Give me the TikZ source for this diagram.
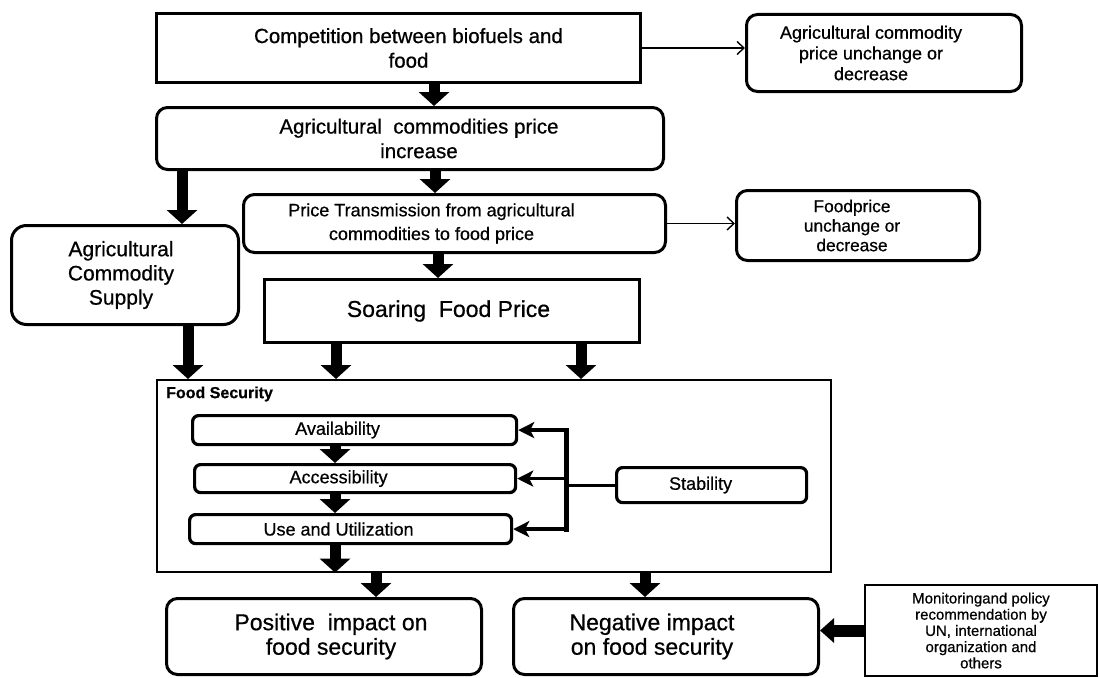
\documentclass[tikz,border=0pt]{standalone}
\usepackage{fontspec}
\setmainfont{Liberation Sans}[FakeBold=0.6]
\usetikzlibrary{arrows.meta,calc}
\newcommand{\sh}[1]{\hspace*{#1}}
\begin{document}
\begin{tikzpicture}[x=1pt,y=-1pt,
  box/.style={draw, line width=3pt, inner sep=0pt, align=center, anchor=north west},
  rbox/.style={box, rounded corners=11pt},
  ibox/.style={box, line width=3.2pt, rounded corners=6pt, font=\fontsize{18}{20}\selectfont},
  fat/.style={line width=11pt, -{Triangle[width=30pt,length=14pt]}},
  fatside/.style={line width=12pt, -{Triangle[width=24pt,length=14pt]}},
  slimarrow/.style={line width=1.4pt, -{Straight Barb[length=7pt,width=13pt,line width=1.4pt]}},
  medarrow/.style={line width=3.5pt, -{Stealth[length=16pt,width=16pt,inset=4pt]}},
  medline/.style={line width=3pt},
  bus/.style={line width=5pt, line cap=rect}
]
\fill[white] (0,0) rectangle (1099,677);
\useasboundingbox (0,0) rectangle (1099,677);

% top row
\node[box, minimum width=484pt, minimum height=69pt, font=\fontsize{20.5}{24.6}\selectfont] (A) at (155,12) {\sh{20pt}Competition between biofuels and\\\sh{20pt}food};
\node[rbox, minimum width=275pt, minimum height=77pt, font=\fontsize{18}{20.7}\selectfont] (B) at (745,13) {\sh{-26pt}Agricultural commodity\\\sh{-26pt}price unchange or\\\sh{-26pt}decrease};
\node[rbox, minimum width=507pt, minimum height=62pt, font=\fontsize{20.5}{24.6}\selectfont] (C) at (155,106) {\sh{18pt}Agricultural\ \ commodities price\\\sh{18pt}increase};
\node[rbox, minimum width=422pt, minimum height=58pt, font=\fontsize{18}{23.7}\selectfont] (D) at (242,193) {\sh{-46pt}Price Transmission from agricultural\\\sh{-46pt}commodities to food price};
\node[rbox, minimum width=243pt, minimum height=70pt, font=\fontsize{17.3}{19.5}\selectfont] (F) at (735,189) {\sh{-12pt}Foodprice\\\sh{-12pt}unchange or\\\sh{-12pt}decrease};
\node[box, rounded corners=15pt, minimum width=227pt, minimum height=99pt, font=\fontsize{21}{24.2}\selectfont] (G) at (10,224) {\sh{-8pt}Agricultural\\\sh{-8pt}Commodity\\\sh{-8pt}Supply};
\node[box, minimum width=375pt, minimum height=63pt, font=\fontsize{23}{27}\selectfont] (E) at (263,278) {\sh{-7pt}Soaring\ \ Food Price};

% food security
\node[box, line width=1.6pt, minimum width=674pt, minimum height=192pt] (FS) at (156,379) {};
\node[anchor=west, inner sep=0pt, font=\bfseries\fontsize{16}{18}\selectfont] (FSl) at (166,394) {Food Security};
\node[ibox, minimum width=324pt, minimum height=29pt] (Av) at (191,414) {\sh{-34pt}Availability};
\node[ibox, minimum width=321pt, minimum height=28pt] (Ac) at (193,463) {\sh{-33pt}Accessibility};
\node[ibox, minimum width=322pt, minimum height=29pt] (Us) at (188,513) {\sh{-24pt}Use and Utilization};
\node[ibox, minimum width=190pt, minimum height=35pt] (St) at (615,466) {\sh{-22pt}Stability};

% bottom
\node[rbox, minimum width=315pt, minimum height=76pt, font=\fontsize{23}{24.5}\selectfont] (Po) at (165,597) {\sh{14pt}Positive\ \ impact on\\\sh{14pt}food security};
\node[rbox, minimum width=305pt, minimum height=76pt, font=\fontsize{23}{24.5}\selectfont] (Ne) at (512,597) {\sh{-28pt}Negative impact\\\sh{-28pt}on food security};
\node[box, line width=2pt, minimum width=232pt, minimum height=91pt, font=\fontsize{15}{16.2}\selectfont] (Mo) at (864,584) {Monitoringand policy\\recommendation by\\UN, international\\organization and\\others};

% column coordinates
\coordinate (xAC) at (434,0);
\coordinate (xCG) at (182,0);
\coordinate (xGF) at (188,0);
\coordinate (xCD) at (435,0);
\coordinate (xDE) at (438,0);
\coordinate (xE1) at (336,0);
\coordinate (xE2) at (581,0);
\coordinate (xIn) at (335,0);
\coordinate (xPo) at (376,0);
\coordinate (xNe) at (645,0);
\coordinate (J) at (566,0);

% fat arrows
\draw[fat] (A.south -| xAC) -- (C.north -| xAC);
\draw[fat] (C.south -| xCG) -- (G.north -| xCG);
\draw[fat] (C.south -| xCD) -- (D.north -| xCD);
\draw[fat] (D.south -| xDE) -- (E.north -| xDE);
\draw[fat] (G.south -| xGF) -- (FS.north -| xGF);
\draw[fat] (E.south -| xE1) -- (FS.north -| xE1);
\draw[fat] (E.south -| xE2) -- (FS.north -| xE2);
\draw[fat] (Av.south -| xIn) -- (Ac.north -| xIn);
\draw[fat] (Ac.south -| xIn) -- (Us.north -| xIn);
\draw[fat] (Us.south -| xIn) -- (FS.south -| xIn);
\draw[fat] (FS.south -| xPo) -- (Po.north -| xPo);
\draw[fat] (FS.south -| xNe) -- (Ne.north -| xNe);
\draw[fatside] (Mo.west) -- (Mo.west -| Ne.east);

% thin arrows
\draw[slimarrow] (A.east) -- (A.east -| B.west);
\draw[slimarrow] (D.east) -- (D.east -| F.west);

% stability connectors
\draw[medline] (St.west) -- (St.west -| J);
\draw[bus] (J |- Av.east) -- (J |- Us.east);
\draw[medarrow] (J |- Av.east) -- (Av.east);
\draw[medarrow] (J |- Ac.east) -- (Ac.east);
\draw[medarrow] (J |- Us.east) -- (Us.east);
\end{tikzpicture}
\end{document}
